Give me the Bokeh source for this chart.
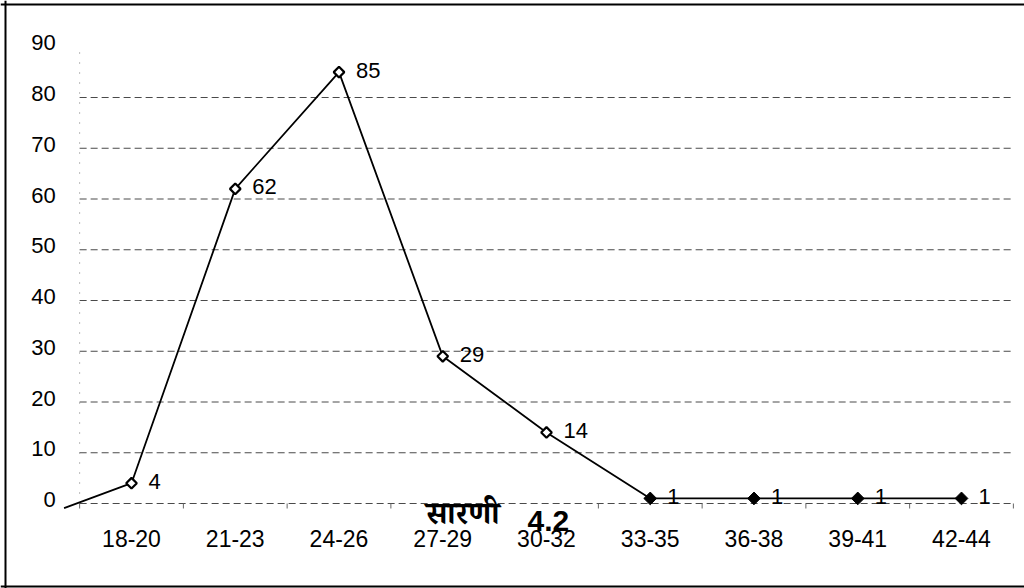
from bokeh.plotting import figure
from bokeh.models import Range1d, Span
from bokeh.core.properties import value
from bokeh.embed import file_html
from bokeh.resources import INLINE

# ---- data ----
categories = ["18-20", "21-23", "24-26", "27-29", "30-32", "33-35", "36-38", "39-41", "42-44"]
counts = [4, 62, 85, 29, 14, 1, 1, 1, 1]
y_tick_values = [0, 10, 20, 30, 40, 50, 60, 70, 80, 90]
grid_levels = [0, 10, 20, 30, 40, 50, 60, 70, 80]
lead_in_x = [-0.65]          # the line enters from the left of the first category
lead_in_y = [-0.9]
caption_word = "सारणी"
caption_number = "4.2"

# ---- geometry ----
W, H = 1024, 588
PX_PER_CAT = 103.75           # pixels between categories
PX_PER_UNIT = 5.075           # pixels per y unit
X0_PX = 131                   # pixel (from figure left) of first category
Y0_PX = 503                   # pixel (from figure top) of y = 0


def dx(px):
    return px / PX_PER_CAT


def dy(px):
    return px / PX_PER_UNIT


x_start, x_end = -X0_PX / PX_PER_CAT, (W - X0_PX) / PX_PER_CAT
y_start, y_end = -(H - Y0_PX) / PX_PER_UNIT, Y0_PX / PX_PER_UNIT

p = figure(width=W, height=H, output_backend="svg", toolbar_location=None,
           x_range=Range1d(x_start, x_end), y_range=Range1d(y_start, y_end),
           x_axis_location=None, y_axis_location=None, min_border=0)
p.outline_line_color = None
p.xgrid.visible = False
p.ygrid.visible = False
p.background_fill_color = "white"
p.border_fill_color = "white"

idx = list(range(len(categories)))
FONT = value("Liberation Sans")

# dashed horizontal gridlines over the plot area
n = len(categories)
p.segment(x0=[-0.5] * len(grid_levels), y0=grid_levels,
          x1=[n - 0.5] * len(grid_levels), y1=grid_levels,
          line_color="#4a4a4a", line_width=1, line_dash="7 4")
# faint dotted value axis
p.segment(x0=[-0.5], y0=[0], x1=[-0.5], y1=[y_tick_values[-1]],
          line_color="#777777", line_width=1, line_dash="1 9")
# category tick marks below the zero line
tick_x = [i - 0.5 for i in range(n + 1)]
p.segment(x0=tick_x, y0=[0] * len(tick_x), x1=tick_x, y1=[-dy(5)] * len(tick_x),
          line_color="#666666", line_width=1)

# y labels
p.text(x=[-0.5 - dx(24)] * len(y_tick_values), y=[v + dy(4) for v in y_tick_values],
       text=[str(v) for v in y_tick_values], text_align="right", text_baseline="middle",
       text_font=FONT, text_font_size="22px", text_color="black")
# x labels
p.text(x=idx, y=[-dy(35)] * n, text=categories, text_align="center", text_baseline="middle",
       text_font=FONT, text_font_size="23px", text_color="black")

# series line
p.line(x=lead_in_x + idx, y=lead_in_y + counts, line_color="black", line_width=1.8)

# markers: first five hollow, remaining filled
hollow = [i for i in idx if i < 5]
filled = [i for i in idx if i >= 5]
p.scatter(x=hollow, y=[counts[i] for i in hollow], marker="square", angle=0.785398,
          size=7.5, fill_color="white", line_color="black", line_width=2.2)
p.scatter(x=filled, y=[counts[i] for i in filled], marker="square", angle=0.785398,
          size=9, fill_color="black", line_color="black", line_width=1)

# data labels
p.text(x=[i + dx(17) for i in idx], y=[c + dy(2) for c in counts],
       text=[str(c) for c in counts], text_align="left", text_baseline="middle",
       text_font=FONT, text_font_size="22px", text_color="black")

# caption
p.text(x=[dx(499 - X0_PX)], y=[-dy(15)], text=[caption_word], text_align="right",
       text_baseline="alphabetic", text_font=value("Noto Serif Devanagari"),
       text_font_size="31px", text_font_style="bold", text_color="black")
p.text(x=[dx(527 - X0_PX)], y=[-dy(17)], text=[caption_number], text_align="left",
       text_baseline="alphabetic", text_font=value("Liberation Sans"),
       text_font_size="30px", text_font_style="bold", text_color="black")

# scanned page frame (left, top, bottom)
p.add_layout(Span(location=x_start + dx(5), dimension="height", line_color="black", line_width=2))
p.add_layout(Span(location=y_end - dy(4), dimension="width", line_color="black", line_width=2))
p.add_layout(Span(location=y_start + dy(2), dimension="width", line_color="black", line_width=2))

open("out.html", "w").write(file_html(p, INLINE))
